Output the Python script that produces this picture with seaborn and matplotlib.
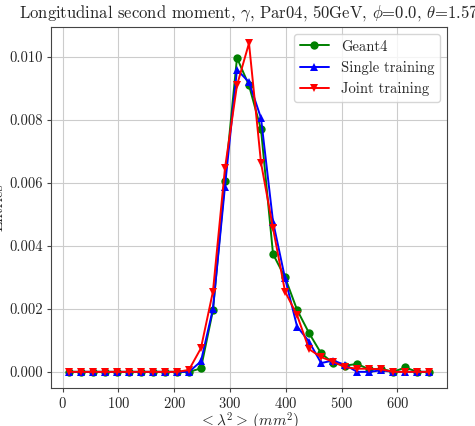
import matplotlib
matplotlib.use("Agg")
import matplotlib.pyplot as plt
import seaborn as sns
import pandas as pd

# bin centres of <lambda^2> (mm^2)
x_bins = [10.75, 32.3, 53.85, 75.4, 96.95, 118.5, 140.05, 161.6, 183.15, 204.7,
          226.25, 247.8, 269.35, 290.9, 312.45, 334.0, 355.55, 377.1, 398.65, 420.2,
          441.75, 463.3, 484.85, 506.4, 527.95, 549.5, 571.05, 592.6, 614.15, 635.7,
          657.25]

geant4 = [0, 0, 0, 0, 0, 0, 0, 0, 0, 0,
          0, 0.00011, 0.00195, 0.00607, 0.00997, 0.0091, 0.0077, 0.00374, 0.0030, 0.00197,
          0.00123, 0.00059, 0.00028, 0.0002, 0.00025, 0.00008, 0.0001, 0, 0.00014, 0,
          0]
single = [0, 0, 0, 0, 0, 0, 0, 0, 0, 0,
          0, 0.00033, 0.0020, 0.00588, 0.0096, 0.0092, 0.00806, 0.00477, 0.00297, 0.00144,
          0.00096, 0.00028, 0.00036, 0.00022, 0, 0, 0.00005, 0, 0, 0,
          0]
joint = [0, 0, 0, 0, 0, 0, 0, 0, 0, 0,
         0.00006, 0.00075, 0.00255, 0.00646, 0.0091, 0.01044, 0.00664, 0.00456, 0.00255, 0.0018,
         0.00072, 0.00047, 0.00032, 0.00015, 0.0001, 0.0001, 0.00008, 0, 0, 0,
         0]

labels = ["Geant4", "Single training", "Joint training"]

df = pd.DataFrame({"x": x_bins * 3,
                   "y": geant4 + single + joint,
                   "model": [labels[0]] * len(x_bins) + [labels[1]] * len(x_bins) + [labels[2]] * len(x_bins)})

sns.set_style("ticks")
plt.rcParams["font.family"] = "serif"
plt.rcParams["font.serif"] = ["cmr10"]
plt.rcParams["mathtext.fontset"] = "cm"
plt.rcParams["axes.formatter.use_mathtext"] = True
plt.rcParams["axes.unicode_minus"] = False

fig = plt.figure(figsize=(4.75, 4.26), dpi=100)
ax = fig.add_axes([0.1067, 0.0885, 0.835, 0.8488])

sns.lineplot(data=df, x="x", y="y", hue="model", style="model",
             palette=["green", "blue", "red"], markers=["o", "^", "v"], dashes=False,
             markersize=6, markeredgewidth=0, linewidth=1.4, ax=ax)

ax.grid(True, color="#cccccc", linewidth=0.8)
for s in ax.spines.values():
    s.set_color("#444444")
ax.tick_params(labelsize=10.5, color="#444444", length=3, pad=2.5)
ax.set_xticks([0, 100, 200, 300, 400, 500, 600])
ax.set_yticks([0.0, 0.002, 0.004, 0.006, 0.008, 0.010])
ax.set_yticklabels(["0.000", "0.002", "0.004", "0.006", "0.008", "0.010"])
ax.set_xlabel(r"$<\lambda^2>\,(mm^2)$", fontsize=11, labelpad=0)
ax.set_ylabel("Entries", fontsize=11, labelpad=3)
ax.set_title(r"Longitudinal second moment, $\gamma$, Par04, 50GeV, $\phi$=0.0, $\theta$=1.57",
             fontsize=12, pad=6)
ax.legend(title=None, loc="upper right", fontsize=10.5, framealpha=0.8)

fig.savefig("out.png", dpi=100)
